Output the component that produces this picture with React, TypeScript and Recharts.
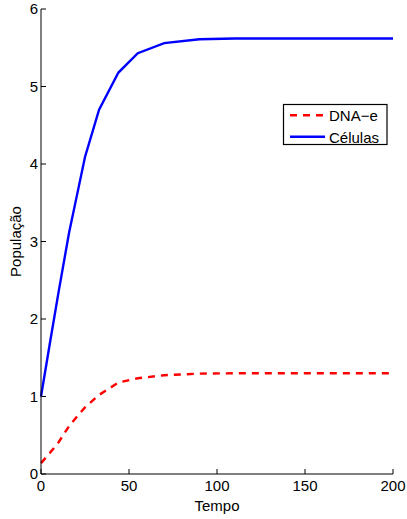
import React from 'react';
import { LineChart, Line, XAxis, YAxis } from 'recharts';

const tempo = [0, 5, 10, 16, 20, 25, 33, 44, 55, 70, 90, 110, 140, 170, 200];
const dnaE = [0.14, 0.27, 0.41, 0.62, 0.73, 0.86, 1.02, 1.18, 1.235, 1.275, 1.295, 1.3, 1.3, 1.3, 1.3];
const celulas = [1.0, 1.68, 2.35, 3.12, 3.55, 4.09, 4.7, 5.18, 5.43, 5.56, 5.61, 5.62, 5.62, 5.62, 5.62];

const xTicks = [0, 50, 100, 150, 200];
const yTicks = [0, 1, 2, 3, 4, 5, 6];

const data = tempo.map((t, i) => ({ t, dna: dnaE[i], cel: celulas[i] }));

const font = '"Liberation Sans", Arial, sans-serif';
const tickStyle = { fontSize: 15, fill: '#000', fontFamily: font };

const series = [
  { key: 'dna', name: 'DNA−e', color: '#ff0000', dash: '7 6' },
  { key: 'cel', name: 'Células', color: '#0000ff', dash: undefined },
];

// legend box drawn straight into the chart svg
function LegendBox() {
  return (
    <g transform="translate(283,104)">
      <rect x={0.5} y={0.5} width={103.5} height={40} fill="#fff" stroke="#000" strokeWidth={1.2} />
      {series.map((s, i) => {
        const y = 11.3 + i * 21.5;
        return (
          <g key={s.key}>
            <line x1={7} x2={42} y1={y} y2={y} stroke={s.color} strokeWidth={2.4} strokeDasharray={s.dash} />
            <text x={46} y={y + 6} fontSize={15} fontFamily={font} fill="#000">
              {s.name}
            </text>
          </g>
        );
      })}
    </g>
  );
}

export default function App() {
  return (
    <div style={{ position: 'absolute', left: 0, top: 0 }}>
      <LineChart width={407} height={519} data={data} margin={{ top: 9, right: 14, bottom: 0, left: 0 }}>
        <XAxis
          dataKey="t"
          type="number"
          domain={[0, 200]}
          ticks={xTicks}
          height={45}
          tickSize={-5}
          tickMargin={11.5}
          stroke="#000"
          tick={tickStyle}
          label={{ value: 'Tempo', position: 'insideBottom', offset: 8, style: { fontSize: 15, fontFamily: font, fill: '#000' } }}
        />
        <XAxis
          xAxisId="top"
          orientation="top"
          dataKey="t"
          type="number"
          domain={[0, 200]}
          ticks={xTicks}
          height={0}
          tickSize={-5}
          stroke="#000"
          tick={() => <g />}
        />
        <YAxis
          type="number"
          domain={[0, 6]}
          ticks={yTicks}
          width={41}
          tickSize={-5}
          tickMargin={8}
          stroke="#000"
          tick={tickStyle}
          label={{
            value: 'População',
            angle: -90,
            position: 'insideLeft',
            offset: 16,
            style: { fontSize: 15, fontFamily: font, fill: '#000', textAnchor: 'middle' },
          }}
        />
        <YAxis
          yAxisId="right"
          orientation="right"
          type="number"
          domain={[0, 6]}
          ticks={yTicks}
          width={0}
          tickSize={-5}
          stroke="#000"
          tick={() => <g />}
        />
        {series.map((s) => (
          <Line
            key={s.key}
            type="linear"
            dataKey={s.key}
            name={s.name}
            stroke={s.color}
            strokeWidth={2.4}
            strokeDasharray={s.dash}
            dot={false}
            activeDot={false}
            isAnimationActive={false}
          />
        ))}
        <LegendBox />
      </LineChart>
    </div>
  );
}
